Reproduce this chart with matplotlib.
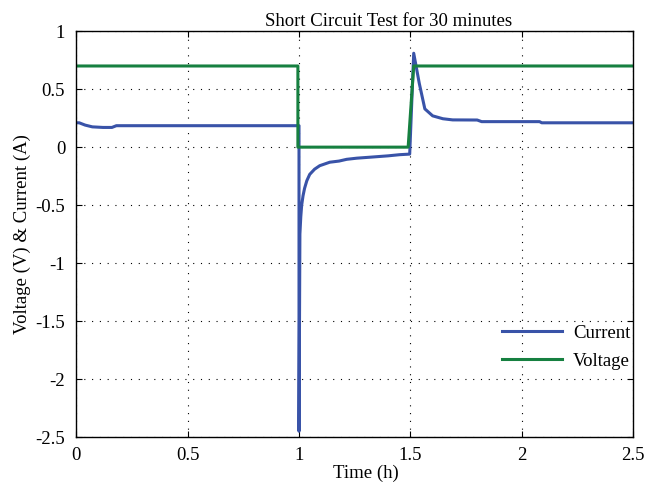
import numpy as np
import matplotlib.pyplot as plt

# Measured traces (time in hours)
t_current = [0.0, 0.013, 0.04, 0.072, 0.12, 0.16, 0.18, 0.5, 0.995, 1.0,
             1.0, 1.004, 1.008, 1.012, 1.018, 1.025, 1.035, 1.048, 1.07, 1.093,
             1.138, 1.18, 1.214, 1.26, 1.317, 1.4, 1.452, 1.497, 1.515, 1.54,
             1.565, 1.60, 1.646, 1.69, 1.80, 1.82, 2.08, 2.09, 2.5]
i_current = [0.21, 0.21, 0.19, 0.175, 0.17, 0.17, 0.185, 0.185, 0.185, 0.185,
             -2.45, -0.75, -0.6, -0.5, -0.42, -0.355, -0.29, -0.235, -0.19, -0.16,
             -0.13, -0.12, -0.105, -0.095, -0.087, -0.075, -0.065, -0.06, 0.81, 0.55,
             0.33, 0.27, 0.245, 0.235, 0.234, 0.22, 0.22, 0.21, 0.21]

t_voltage = [0.0, 0.995, 0.995, 1.49, 1.515, 2.5]
v_voltage = [0.7, 0.7, 0.0, 0.0, 0.7, 0.7]

xticks = [0, 0.5, 1, 1.5, 2, 2.5]
yticks = [-2.5, -2, -1.5, -1, -0.5, 0, 0.5, 1]

plt.rcParams['font.family'] = ['Liberation Serif', 'DejaVu Serif']
plt.rcParams['font.size'] = 13.5

fig = plt.figure(figsize=(6.52, 4.86), dpi=100)
ax = fig.add_axes([0.117, 0.1008, 0.854, 0.835])

ax.plot(t_current, i_current, color='#3953a8', lw=2.2, label='Current')
ax.plot(t_voltage, v_voltage, color='#168040', lw=2.2, label='Voltage')

ax.set_xlim(0, 2.5)
ax.set_ylim(-2.5, 1)
ax.set_xticks(xticks)
ax.set_xticklabels(['0', '0.5', '1', '1.5', '2', '2.5'])
ax.set_yticks(yticks)
ax.set_yticklabels(['-2.5', '-2', '-1.5', '-1', '-0.5', '0', '0.5', '1'])
ax.tick_params(direction='in', top=True, right=True, length=4, width=0.8)
ax.tick_params(axis='y', pad=8)
ax.tick_params(axis='x', pad=7)
ax.grid(True, color='black', linestyle=(0, (1, 6)), linewidth=0.8)
for s in ax.spines.values():
    s.set_linewidth(1.0)

ax.set_title('Short Circuit Test for 30 minutes', fontsize=13.5, pad=4, x=0.56)
ax.set_xlabel('Time (h)', labelpad=1, x=0.52)
ax.set_ylabel('Voltage (V) & Current (A)', labelpad=3)

ax.legend(loc='lower right', frameon=False, handlelength=3.2, handletextpad=0.6,
          labelspacing=0.6, borderpad=0, borderaxespad=0,
          bbox_to_anchor=(0.995, 0.165))

fig.savefig('out.png', dpi=100)
